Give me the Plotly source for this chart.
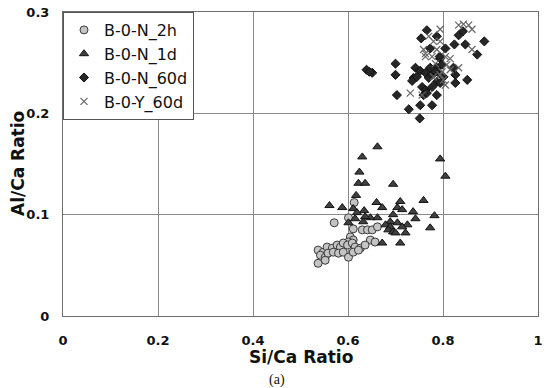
import plotly.graph_objects as go

# ---- data ----
n2h_x = [0.571, 0.601, 0.613, 0.611, 0.630, 0.641, 0.651, 0.662, 0.605, 0.611, 0.601, 0.647, 0.657,
         0.537, 0.548, 0.556, 0.567, 0.577, 0.584, 0.590, 0.599, 0.609, 0.615, 0.626, 0.636,
         0.542, 0.552, 0.558, 0.569, 0.580, 0.590, 0.601, 0.611, 0.622, 0.552, 0.537]
n2h_y = [0.092, 0.097, 0.112, 0.086, 0.085, 0.085, 0.085, 0.088, 0.078, 0.075, 0.073, 0.075, 0.073,
         0.065, 0.063, 0.068, 0.067, 0.070, 0.068, 0.072, 0.070, 0.072, 0.068, 0.067, 0.070,
         0.060, 0.058, 0.062, 0.063, 0.062, 0.063, 0.058, 0.063, 0.065, 0.055, 0.052]

n1d_x = [0.794, 0.805, 0.662, 0.630, 0.624, 0.622, 0.636, 0.695, 0.617, 0.660, 0.710, 0.759,
         0.561, 0.588, 0.672, 0.704, 0.611, 0.634, 0.737, 0.714, 0.695, 0.619, 0.782, 0.742,
         0.615, 0.647, 0.662, 0.636, 0.632, 0.689, 0.601, 0.704, 0.725, 0.679, 0.773, 0.714,
         0.689, 0.685, 0.695, 0.700, 0.721, 0.672, 0.710]
n1d_y = [0.155, 0.138, 0.167, 0.157, 0.142, 0.131, 0.131, 0.130, 0.119, 0.112, 0.113, 0.114,
         0.109, 0.107, 0.107, 0.107, 0.106, 0.104, 0.103, 0.105, 0.100, 0.102, 0.099, 0.096,
         0.096, 0.097, 0.097, 0.098, 0.093, 0.093, 0.092, 0.092, 0.090, 0.090, 0.087, 0.088,
         0.088, 0.085, 0.083, 0.082, 0.082, 0.072, 0.072]

n60_x = [0.766, 0.754, 0.787, 0.773, 0.805, 0.824, 0.847, 0.833, 0.842, 0.887, 0.872, 0.651,
         0.700, 0.700, 0.742, 0.752, 0.738, 0.735, 0.745, 0.763, 0.770, 0.777, 0.787, 0.794,
         0.798, 0.791, 0.801, 0.822, 0.826, 0.826, 0.851, 0.787, 0.794, 0.756, 0.763, 0.777,
         0.759, 0.766, 0.787, 0.703, 0.752, 0.777, 0.728, 0.751, 0.793, 0.784, 0.773, 0.639, 0.645]
n60_y = [0.282, 0.274, 0.276, 0.264, 0.264, 0.268, 0.268, 0.277, 0.281, 0.271, 0.258, 0.240,
         0.249, 0.238, 0.245, 0.242, 0.235, 0.232, 0.236, 0.240, 0.235, 0.238, 0.245, 0.254,
         0.248, 0.240, 0.236, 0.245, 0.238, 0.230, 0.233, 0.231, 0.230, 0.226, 0.223, 0.226,
         0.218, 0.220, 0.218, 0.218, 0.208, 0.208, 0.204, 0.195, 0.256, 0.241, 0.245, 0.243, 0.241]

y60_x = [0.794, 0.770, 0.780, 0.794, 0.833, 0.843, 0.854, 0.861, 0.759, 0.787, 0.763, 0.777,
         0.805, 0.861, 0.815, 0.784, 0.808, 0.798, 0.815, 0.833, 0.780, 0.801, 0.805, 0.794,
         0.731, 0.756, 0.763]
y60_y = [0.283, 0.276, 0.271, 0.271, 0.287, 0.288, 0.287, 0.283, 0.263, 0.263, 0.256, 0.256,
         0.256, 0.263, 0.254, 0.249, 0.248, 0.241, 0.243, 0.245, 0.236, 0.233, 0.228, 0.238,
         0.220, 0.218, 0.259]

x_ticks = [0, 0.2, 0.4, 0.6, 0.8, 1]
x_ticktext = ["0", "0.2", "0.4", "0.6", "0.8", "1"]
y_ticks = [0, 0.1, 0.2, 0.3]
y_ticktext = ["0", "0.1", "0.2", "0.3"]

fig = go.Figure()
fig.add_trace(go.Scatter(x=n2h_x, y=n2h_y, mode="markers", name="B-0-N_2h",
                         marker=dict(symbol="circle", size=8, color="#c4c4c4",
                                     line=dict(color="#3a3a3a", width=1))))
fig.add_trace(go.Scatter(x=n1d_x, y=n1d_y, mode="markers", name="B-0-N_1d",
                         marker=dict(symbol="triangle-up", size=8, color="#404040",
                                     line=dict(color="#111111", width=1))))
fig.add_trace(go.Scatter(x=n60_x, y=n60_y, mode="markers", name="B-0-N_60d",
                         marker=dict(symbol="diamond", size=7, color="#262626",
                                     line=dict(color="#111111", width=1))))
fig.add_trace(go.Scatter(x=y60_x, y=y60_y, mode="markers", name="B-0-Y_60d",
                         marker=dict(symbol="x-thin", size=7, color="#666666",
                                     line=dict(color="#666666", width=1.2))))

axis_common = dict(showgrid=True, gridcolor="#8a8a8a", gridwidth=1,
                   showline=True, linecolor="#6e6e6e", linewidth=1, mirror=True,
                   zeroline=False, ticks="", automargin=False, ticklabeloverflow="allow",
                   tickfont=dict(family="DejaVu Sans", size=13, color="#111111", weight="bold"))

fig.update_xaxes(range=[0, 1], tickvals=x_ticks, ticktext=x_ticktext,
                 ticklabelstandoff=12, **axis_common)
fig.update_yaxes(range=[0, 0.3], tickvals=y_ticks, ticktext=y_ticktext,
                 ticklabelstandoff=10, **axis_common)

title_font = dict(family="DejaVu Sans", size=17, color="#111111", weight="bold")

fig.update_layout(
    width=550, height=388,
    margin=dict(l=63, r=12, t=12, b=72),
    paper_bgcolor="white", plot_bgcolor="white",
    showlegend=True,
    legend=dict(x=0, y=1, xanchor="left", yanchor="top",
                bgcolor="white", bordercolor="#555555", borderwidth=1,
                font=dict(family="DejaVu Sans", size=16, color="#111111"),
                tracegroupgap=0, itemwidth=30),
    annotations=[
        dict(text="Si/Ca Ratio", x=0.5, y=0, xref="paper", yref="paper", yshift=-41,
             showarrow=False, xanchor="center", yanchor="middle", font=title_font),
        dict(text="Al/Ca Ratio", x=0, y=0.5, xref="paper", yref="paper", xshift=-45,
             textangle=-90, showarrow=False, xanchor="center", yanchor="middle", font=title_font),
        dict(text="(a)", x=0.451, y=0, xref="paper", yref="paper", yshift=-64,
             showarrow=False, xanchor="center", yanchor="middle",
             font=dict(family="Liberation Serif", size=14, color="#111111")),
    ],
)

fig.write_html("out.html", config={"displayModeBar": False},
               post_script="document.body.style.margin='0';document.body.style.overflow='hidden';")
